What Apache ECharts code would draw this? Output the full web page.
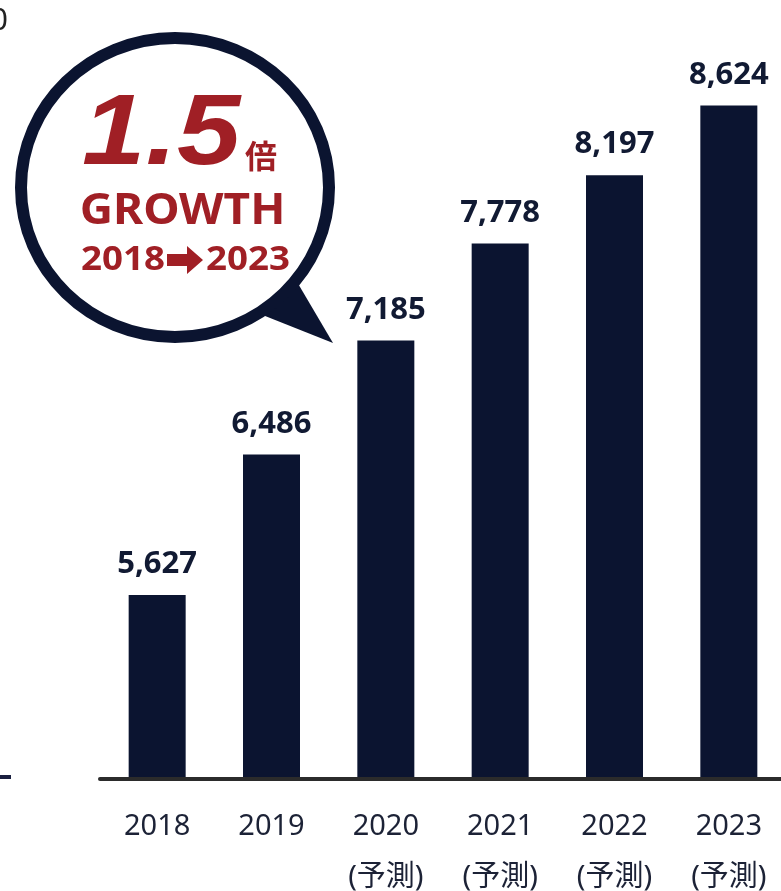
<!DOCTYPE html>
<html>
<head>
<meta charset="utf-8">
<script src="https://cdn.jsdelivr.net/npm/echarts@6/dist/echarts.min.js"></script>
<style>
  html, body { margin: 0; padding: 0; background: #ffffff; overflow: hidden; }
  #chart { width: 781px; height: 891px; }
</style>
</head>
<body>
<div id="chart"></div>
<script>
// Market size by year (2020 onward are forecasts)
const categories = ['2018', '2019', '2020\n(予測)', '2021\n(予測)', '2022\n(予測)', '2023\n(予測)'];
const values = [5627, 6486, 7185, 7778, 8197, 8624];
const yMin = 4500;
const yMax = 9000;
const edgeTickLabel = '9,000';

const NAVY = '#0b1430';
const RED = '#a01f25';
const FONT = '"Noto Sans", "Noto Sans CJK JP", sans-serif';

const fmt = v => String(v).replace(/\B(?=(\d{3})+(?!\d))/g, ',');

const chart = echarts.init(document.getElementById('chart'), null, { renderer: 'canvas', width: 781, height: 891 });

chart.setOption({
  animation: false,
  backgroundColor: '#ffffff',
  grid: { left: 100, width: 686, top: 44, height: 735, containLabel: false, outerBoundsMode: 'none' },
  xAxis: {
    type: 'category',
    data: categories,
    z: 10,
    axisLine: { show: true, lineStyle: { color: '#2b2b2b', width: 4 } },
    axisTick: { show: false },
    axisLabel: {
      interval: 0,
      margin: 22,
      fontSize: 29,
      lineHeight: 51,
      color: '#1c2236',
      fontFamily: FONT
    }
  },
  yAxis: {
    type: 'value',
    min: yMin,
    max: yMax,
    show: false,
    splitLine: { show: false }
  },
  series: [{
    type: 'bar',
    data: values,
    barWidth: 57,
    itemStyle: { color: NAVY },
    label: {
      show: true,
      position: 'top',
      distance: 15,
      formatter: p => fmt(p.value),
      fontSize: 31,
      fontWeight: 'bold',
      color: '#111a33',
      fontFamily: FONT
    }
  }],
  graphic: [
    // clipped axis label at the top-left edge
    {
      type: 'text', x: 8, y: 21, z: 20,
      style: { text: edgeTickLabel, align: 'right', verticalAlign: 'middle',
               fontSize: 30, fill: '#222222', fontFamily: FONT }
    },
    // left axis tick at the baseline
    { type: 'rect', shape: { x: 0, y: 775, width: 11, height: 4 }, style: { fill: '#1a2040' }, z: 20 },
    // speech bubble tail
    {
      type: 'polygon', z: 20,
      shape: { points: [[250, 310], [290, 270], [333, 343]] },
      style: { fill: NAVY }
    },
    // speech bubble body
    {
      type: 'ellipse', z: 21,
      shape: { cx: 175, cy: 187.5, rx: 154, ry: 149.5 },
      style: { fill: '#ffffff', stroke: NAVY, lineWidth: 12 }
    },
    {
      type: 'text', x: 82, y: 136, z: 22, scaleX: 1.14,
      style: { text: '1.5', align: 'left', verticalAlign: 'middle', fontSize: 100,
               fontWeight: 'bold', fontStyle: 'italic', fill: RED,
               fontFamily: '"Liberation Sans", Arial, sans-serif' }
    },
    {
      type: 'text', x: 261, y: 156, z: 22,
      style: { text: '倍', align: 'center', verticalAlign: 'middle', fontSize: 32,
               fontWeight: 'bold', fill: RED, fontFamily: '"Noto Sans CJK JP", sans-serif' }
    },
    {
      type: 'text', x: 182.5, y: 212, z: 22, scaleX: 1.07,
      style: { text: 'GROWTH', align: 'center', verticalAlign: 'middle', fontSize: 43,
               fontWeight: 'bold', fill: RED, fontFamily: FONT }
    },
    {
      type: 'text', x: 165, y: 260, z: 22, scaleX: 1.08,
      style: { text: '2018', align: 'right', verticalAlign: 'middle', fontSize: 34,
               fontWeight: 'bold', fill: RED, fontFamily: FONT }
    },
    {
      type: 'text', x: 206, y: 260, z: 22, scaleX: 1.08,
      style: { text: '2023', align: 'left', verticalAlign: 'middle', fontSize: 34,
               fontWeight: 'bold', fill: RED, fontFamily: FONT }
    },
    // arrow between the years
    {
      type: 'polygon', z: 22,
      shape: { points: [[167, 254], [187, 254], [187, 246], [203, 260], [187, 274], [187, 266], [167, 266]] },
      style: { fill: RED }
    }
  ]
});
</script>
</body>
</html>
